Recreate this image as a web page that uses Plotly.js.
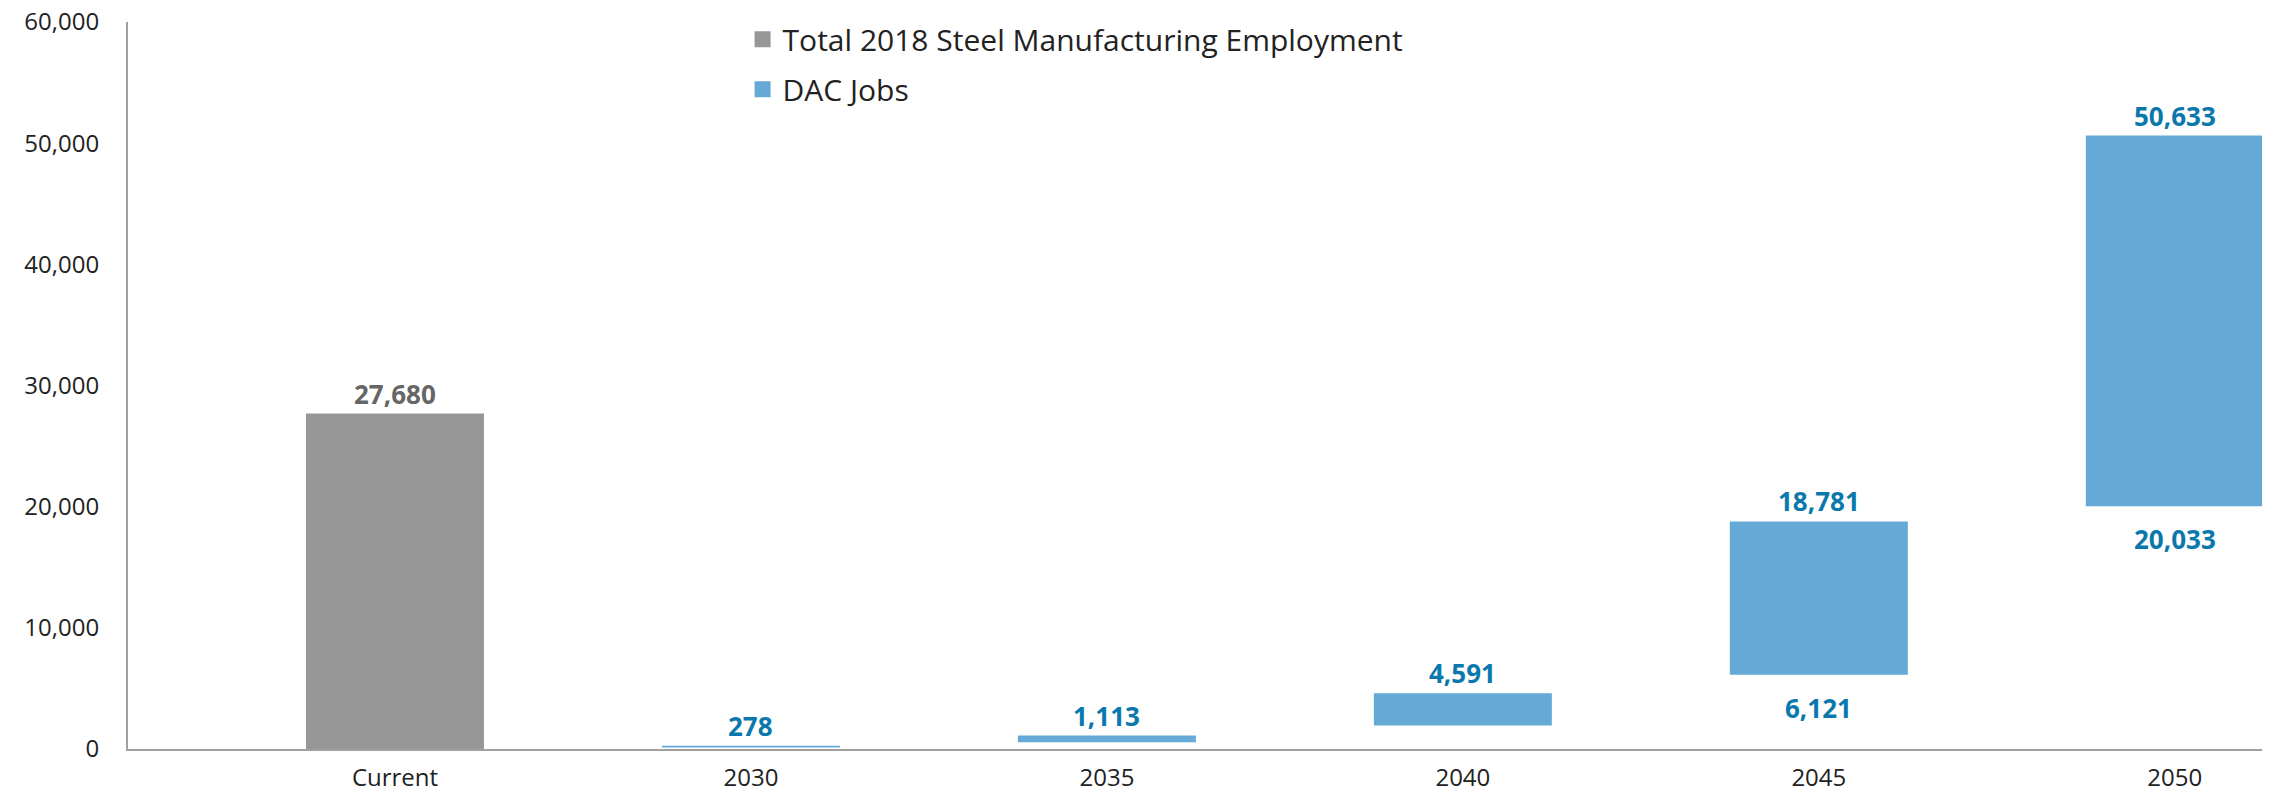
<!DOCTYPE html>
<html>
<head>
<meta charset="utf-8">
<script src="https://cdn.plot.ly/plotly-3.0.1.min.js"></script>
<style>html,body{margin:0;padding:0;background:#fff}#chart{width:2277px;height:795px}</style>
</head>
<body>
<div id="chart"></div>
<script>
// Data
var categories = ["Current", "2030", "2035", "2040", "2045", "2050"];
var lowValues  = [0, 120, 556, 1930, 6121, 20033];
var highValues = [27680, 278, 1113, 4591, 18781, 50633];
var seriesName = ["Total 2018 Steel Manufacturing Employment", "DAC Jobs", "DAC Jobs", "DAC Jobs", "DAC Jobs", "DAC Jobs"];
var topLabels    = ["27,680", "278", "1,113", "4,591", "18,781", "50,633"];
var bottomLabels = [null, null, null, null, "6,121", "20,033"];
var yTicks = [0, 10000, 20000, 30000, 40000, 50000, 60000];
var legendNames = ["Total 2018 Steel Manufacturing Employment", "DAC Jobs"];

var GRAY = "#979797", BLUE = "#65aad6";
var LGRAY = "#666666", LBLUE = "#0b78ad";
var colorOf = function (n) { return n === "DAC Jobs" ? BLUE : GRAY; };
var labelColorOf = function (n) { return n === "DAC Jobs" ? LBLUE : LGRAY; };

var heights = highValues.map(function (h, i) { return h - lowValues[i]; });

var traces = [];
traces.push({
  type: "bar",
  x: categories,
  y: heights,
  base: lowValues,
  width: 0.5,
  marker: { color: seriesName.map(colorOf), line: { width: 0 } },
  showlegend: false,
  hoverinfo: "skip"
});
legendNames.forEach(function (n, i) {
  traces.push({
    type: "scatter", mode: "markers",
    x: [null], y: [null],
    name: n, legendgroup: "g" + i,
    marker: { symbol: "square", size: 16, color: colorOf(n) },
    hoverinfo: "skip"
  });
});

// annotations positioned by category index on the category axis
var annotations = [];
categories.forEach(function (c, i) {
  if (topLabels[i]) {
    annotations.push({
      x: i, y: highValues[i], xref: "x", yref: "y",
      text: topLabels[i], showarrow: false,
      yanchor: "middle", yshift: 20,
      font: { family: "Open Sans", size: 26, weight: 700, color: labelColorOf(seriesName[i]) }
    });
  }
  if (bottomLabels[i]) {
    annotations.push({
      x: i, y: lowValues[i], xref: "x", yref: "y",
      text: bottomLabels[i], showarrow: false,
      yanchor: "middle", yshift: -33,
      font: { family: "Open Sans", size: 26, weight: 700, color: labelColorOf(seriesName[i]) }
    });
  }
});

var layout = {
  width: 2277, height: 795,
  margin: { l: 128, r: 15, t: 22, b: 46 },
  paper_bgcolor: "#ffffff", plot_bgcolor: "#ffffff",
  font: { family: "Open Sans", color: "#222222", size: 24 },
  showlegend: true,
  legend: {
    x: 0.288, y: 1.012, xanchor: "left", yanchor: "top",
    font: { family: "Open Sans", size: 30, color: "#222222" },
    traceorder: "grouped", tracegroupgap: 8,
    bgcolor: "rgba(0,0,0,0)"
  },
  annotations: annotations,
  xaxis: {
    type: "category",
    range: [-0.75, 5.245],
    showline: true, linecolor: "#a0a0a0", linewidth: 2,
    showgrid: false, zeroline: false, ticks: "",
    ticklabelstandoff: 6,
    tickfont: { family: "Open Sans", size: 24, color: "#222222" },
    fixedrange: true
  },
  yaxis: {
    range: [0, 60000],
    tickvals: yTicks,
    tickformat: ",",
    showline: true, linecolor: "#a0a0a0", linewidth: 2,
    showgrid: false, zeroline: false, ticks: "",
    ticklabelstandoff: 22,
    tickfont: { family: "Open Sans", size: 24, color: "#222222" },
    fixedrange: true
  }
};

Plotly.newPlot("chart", traces, layout, { displayModeBar: false, staticPlot: true });
</script>
</body>
</html>
